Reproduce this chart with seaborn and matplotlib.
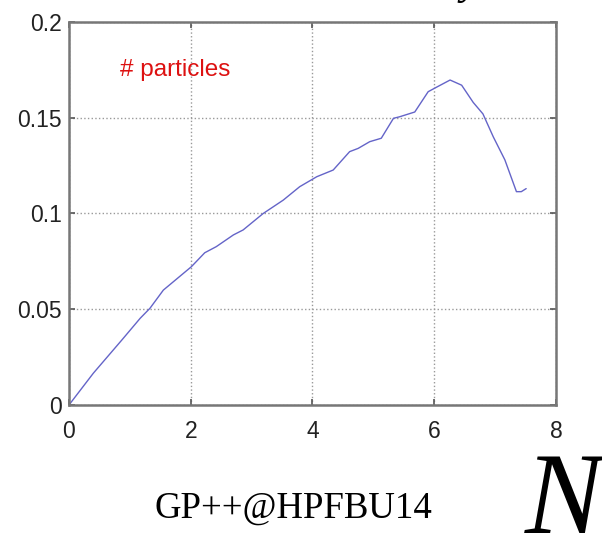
import numpy as np
import pandas as pd
import seaborn as sns
import matplotlib.pyplot as plt

# curve
x = [0.0, 0.40, 0.87, 1.17, 1.33, 1.55, 2.01, 2.23, 2.42, 2.70, 2.86, 3.19, 3.52,
     3.79, 4.07, 4.34, 4.61, 4.75, 4.94, 5.13, 5.33, 5.43, 5.68, 5.90, 6.04, 6.26,
     6.45, 6.64, 6.80, 6.97, 7.16, 7.35, 7.43, 7.51]
y = [0.0, 0.0166, 0.034, 0.0453, 0.0505, 0.060, 0.0722, 0.0795, 0.0827, 0.0888,
     0.0914, 0.100, 0.107, 0.114, 0.1192, 0.1227, 0.1323, 0.134, 0.1375, 0.1393,
     0.1497, 0.1505, 0.153, 0.1636, 0.166, 0.1697, 0.167, 0.158, 0.152, 0.140,
     0.128, 0.1114, 0.1114, 0.113]
xticks = [0, 2, 4, 6, 8]
yticks = [0, 0.05, 0.1, 0.15, 0.2]
ytick_labels = ["0", "0.05", "0.1", "0.15", "0.2"]

df = pd.DataFrame({"x": x, "y": y})

sns.set_style("white")
plt.rcParams["font.family"] = ["Liberation Sans", "DejaVu Sans"]

fig = plt.figure(figsize=(6.02, 5.34), dpi=100)
ax = fig.add_axes([0.1146, 0.2416, 0.8090, 0.7172])

sns.lineplot(data=df, x="x", y="y", ax=ax, color="#6464c8", linewidth=1.0)

ax.set_xlim(0, 8)
ax.set_ylim(0, 0.2)
ax.set_xticks(xticks)
ax.set_yticks(yticks)
ax.set_yticklabels(ytick_labels)
ax.set_xlabel("")
ax.set_ylabel("")
ax.grid(True, linestyle=":", color="#999999", linewidth=1.0)
ax.tick_params(direction="in", length=4, width=1.2, colors="#555555",
               labelcolor="#222222", labelsize=16.5, top=True, right=True,
               bottom=True, left=True)
ax.tick_params(axis="y", pad=5)
ax.tick_params(axis="x", pad=11)
for s in ax.spines.values():
    s.set_visible(True)
    s.set_color("#777777")
    s.set_linewidth(1.8)

ax.text(0.84, 0.175, "# particles", color="#dd1111", fontsize=17.5,
        va="center", ha="left")

# slide text under the chart
fig.text(0.487, 0.030, "GP++@HPFBU14", family="Liberation Serif",
         fontsize=26.5, ha="center", va="baseline", color="black")
fig.text(0.872, 0.002, "N", family="Liberation Serif", style="italic",
         fontsize=84, ha="left", va="baseline", color="black")
fig.text(0.765, 1.012, "y", family="Liberation Serif", style="italic",
         fontsize=30, ha="left", va="baseline", color="black")

fig.savefig("out.png", dpi=100)
